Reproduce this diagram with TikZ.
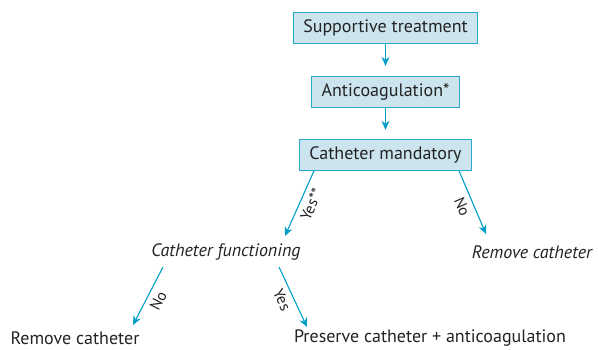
\documentclass[tikz,border=0pt]{standalone}
\usepackage{fontspec}
\setmainfont{PT Sans}
\usetikzlibrary{positioning,arrows.meta,calc}
\definecolor{boxfill}{RGB}{204,228,238}
\definecolor{boxline}{RGB}{40,170,205}
\definecolor{flow}{RGB}{0,158,200}
\definecolor{ink}{RGB}{35,35,35}

\begin{document}
\begin{tikzpicture}[
  x=1pt, y=1pt, >={Stealth[length=9pt,width=8pt]},
  every node/.style={text=ink, font=\fontsize{18}{21}\selectfont},
  stepbox/.style={draw=boxline, fill=boxfill, line width=0.9pt, minimum height=31pt, inner xsep=10pt},
  choice/.style={font=\fontsize{18}{21}\selectfont\itshape, inner sep=2pt},
  leaf/.style={inner sep=1pt},
  flowline/.style={->, draw=flow, line width=1.1pt},
  tag/.style={sloped, below, font=\fontsize{15.5}{18}\selectfont, inner sep=5pt},
]
  \useasboundingbox (0,0) rectangle (598,-349);
  \node[stepbox] (support) at (385.5,-28) {Supportive treatment};
  \node[stepbox, below=32pt of support] (anticoag) {Anticoagulation*};
  \node[stepbox, below=31pt of anticoag] (mandatory) {Catheter mandatory};
  \node[choice] (functioning) at (226,-252) {Catheter functioning};
  \node[choice] (removeA) at (532,-252) {Remove catheter};
  \node[leaf] (removeB) at (75,-338) {Remove catheter};
  \node[leaf] (preserve) at (430,-338) {Preserve catheter + anticoagulation};
  % main column
  \draw[flowline, shorten >=10pt] (support) -- (anticoag);
  \draw[flowline, shorten >=9pt] (anticoag) -- (mandatory);
  % first decision
  \draw[flowline] ($(mandatory.south west)+(15,0)$) -- ($(functioning)+(59,16)$)
    node[tag, pos=0.45] {Yes**};
  \draw[flowline] ($(mandatory.south east)+(-13,0)$) -- ($(removeA)+(-46,18)$)
    node[tag, pos=0.5] {No};
  % second decision
  \draw[flowline] ($(functioning)+(-63,-15)$) -- ($(removeB)+(58,13)$)
    node[tag, pos=0.49] {No};
  \draw[flowline] ($(functioning)+(53,-15)$) -- ($(preserve)+(-123,11)$)
    node[tag, pos=0.47] {Yes};
\end{tikzpicture}
\end{document}
